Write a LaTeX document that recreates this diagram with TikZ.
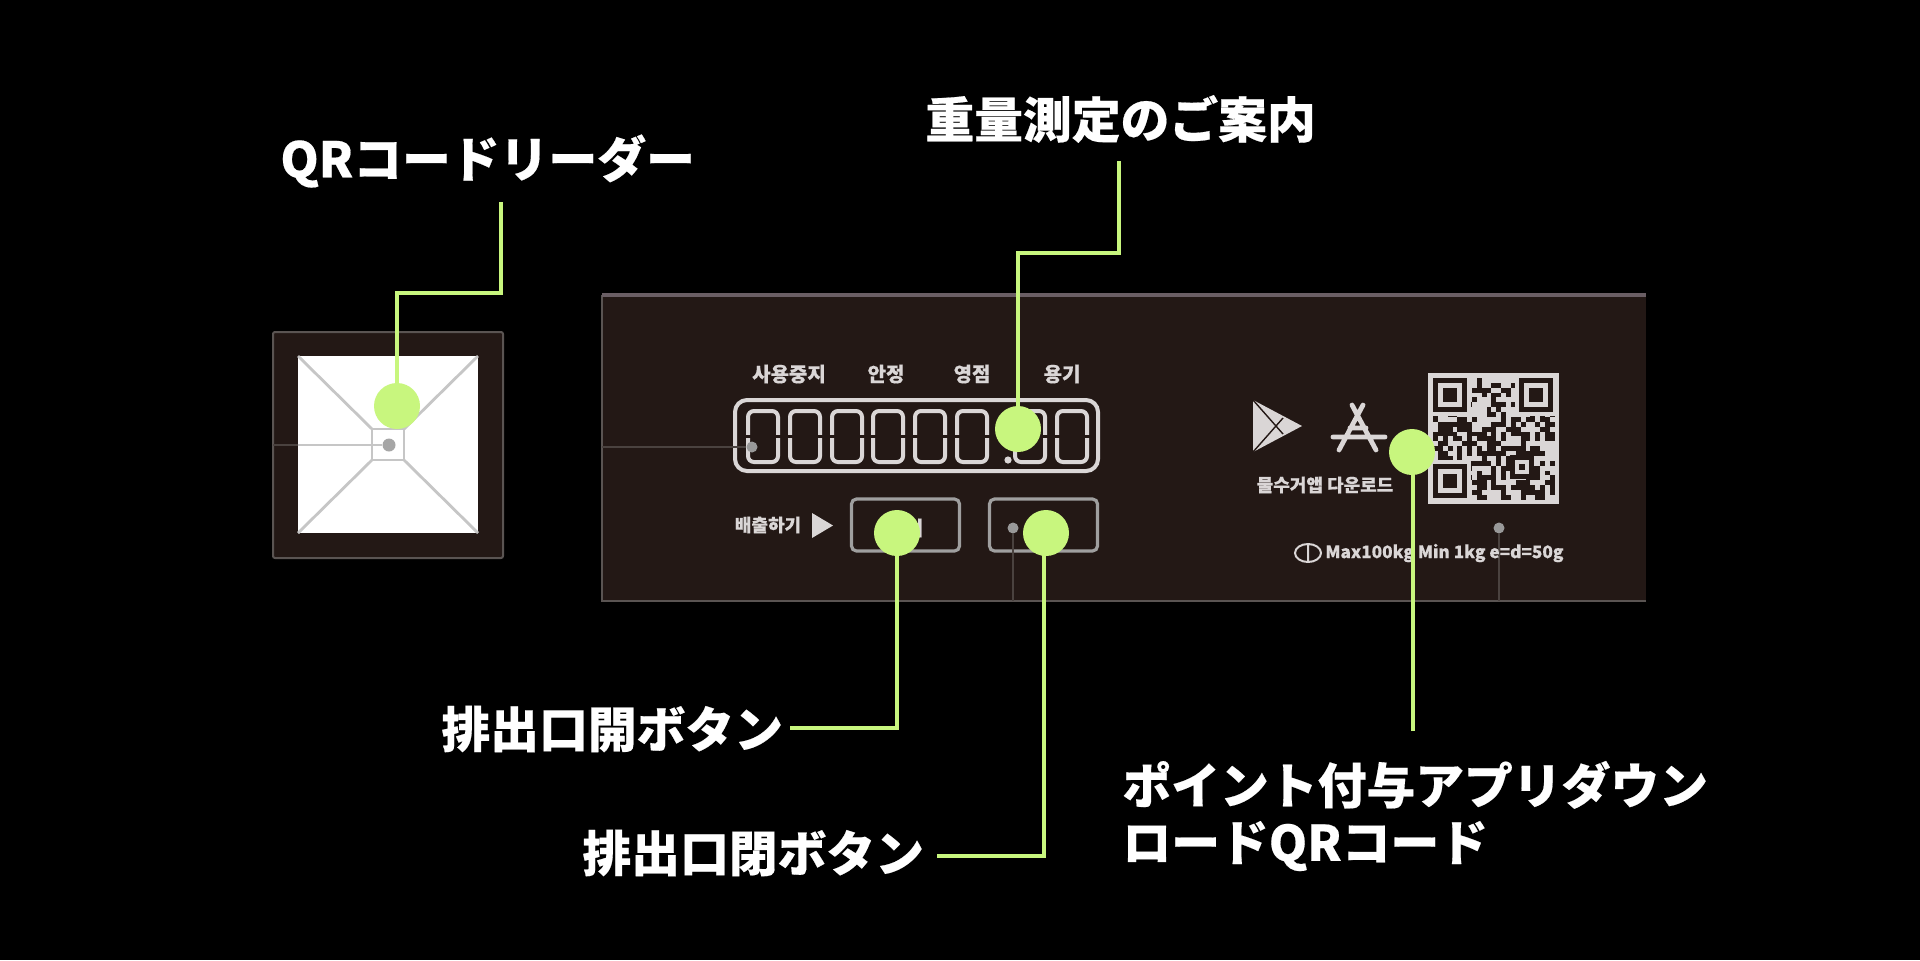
\documentclass[tikz,border=0pt]{standalone}
\usepackage{fontspec}
\usepackage{xcolor}
\setmainfont{Noto Sans}
\newfontfamily\jpfont[BoldFeatures={FakeBold=0.35}]{Noto Sans CJK JP}
\newfontfamily\krfont[BoldFeatures={FakeBold=0.4}]{Noto Sans CJK KR}
\usetikzlibrary{calc}
\definecolor{leadgreen}{HTML}{C8F67E}
\definecolor{panelbrown}{HTML}{231815}
\definecolor{edgegray}{HTML}{6A5E64}
\definecolor{sidegray}{HTML}{5A5452}
\definecolor{faintgray}{HTML}{4A423F}
\definecolor{inkgray}{HTML}{DAD6D6}

\begin{document}
\begin{tikzpicture}[x=0.5pt,y=-0.5pt,every node/.style={inner sep=0pt,align=left},biglabel/.style={text=white,anchor=west,font=\jpfont\bfseries\fontsize{24.4}{28.5}\selectfont},keytext/.style={text=inkgray,font=\krfont\bfseries\fontsize{10}{12}\selectfont},spot/.style={circle,fill=leadgreen,minimum size=23pt},leader/.style={draw=leadgreen,line width=2pt},thinleader/.style={draw=leadgreen,line width=1.6pt},casing/.style={fill=panelbrown,draw=sidegray,line width=1pt,rounded corners=1pt},wire/.style={draw=faintgray,line width=1pt},pin/.style={circle,fill=gray!80,minimum size=5.5pt},keybox/.style={draw=gray!75,line width=1.6pt,rounded corners=2.5pt},segline/.style={draw=inkgray,line width=2pt,rounded corners=3pt}]
\useasboundingbox (0,0) rectangle (1920,960);
\fill[black] (0,0) rectangle (1920,960);
% reader housing
\draw[casing] (273,332) rectangle (503,558);
\fill[white] (298,356) rectangle (478,533);
\draw[gray!45,line width=1.4pt] (298,356) -- (372,429) (478,356) -- (404,429) (298,533) -- (372,460) (478,533) -- (404,460);
\draw[gray!45,line width=1.4pt] (372,429) rectangle (404,460);
\node[pin,fill=gray!70,minimum size=6.5pt] (readerpin) at (389,445) {};
\draw[gray!45,line width=1pt] (298,445) -- (readerpin);
\draw[wire] (273,445) -- (298,445);
% weighing panel
\fill[panelbrown] (602,295) rectangle (1646,601);
\draw[sidegray,line width=1pt] (1646,601) -- (602,601) -- (602,295);
\draw[edgegray,line width=2pt] (602,295) -- (1646,295);
\node[keytext] (stoplabel) at (789,374) {사용중지}; \node[keytext] (stablelabel) at (886,374) {안정}; \node[keytext] (zerolabel) at (972,374) {영점}; \node[keytext] (tarelabel) at (1062,374) {용기};
\draw[segline,rounded corners=6pt] (735,400) rectangle (1098,471);
\foreach \dx in {763,805,847,888,930,972,1030,1072} {
  \draw[segline] (\dx-15,411) rectangle (\dx+15,462);
  \draw[panelbrown,line width=1.5pt] (\dx-19,436.5) -- (\dx-11,436.5) (\dx+11,436.5) -- (\dx+19,436.5);
}
\fill[inkgray] (1008,460) circle (1.8pt);
\node[pin] (scalepin) at (752,447) {};
\draw[wire] (602,447) -- (scalepin);
\node[keytext,font=\krfont\bfseries\fontsize{9}{11}\selectfont] (ejectlabel) at (768,525) {배출하기};
\fill[inkgray] (812,513) -- (833,525.5) -- (812,538) -- cycle;
\node[keybox,minimum width=54pt,minimum height=26pt] (openkey) at (905.5,525) {}; \node[keybox,minimum width=54pt,minimum height=26pt] (closekey) at (1043.5,525) {};
\node[keytext] (opentext) at (905,528) {열기}; \node[keytext] (closetext) at (1046,528) {닫기};
\node[pin] (closepin) at (1013,528) {};
\draw[wire] (closepin) -- (1013,601);
% store icons
\fill[inkgray] (1253,400) -- (1302,426) -- (1253,452) -- cycle;
\draw[panelbrown,line width=0.7pt] (1253,400) -- (1283,434) (1253,452) -- (1283,418);
\draw[inkgray,line width=2.4pt,line cap=round] (1363,405) -- (1339,450) (1352,405) -- (1376,450) (1333,437) -- (1385,437) (1350,428) -- (1366,428);
\node[keytext,font=\krfont\bfseries\fontsize{9}{11}\selectfont] (applabel) at (1325,485) {물수거앱 다운로드};
% qr code
\fill[inkgray] (1428,373) rectangle (1559,504);
\pgfmathsetseed{11}
\foreach \i in {0,...,24} \foreach \j in {0,...,24} {
  \pgfmathsetmacro{\cell}{int(rnd<0.48)}
  \ifnum\cell=1 \fill[panelbrown] ({1433+\i*4.87},{378+\j*4.87}) rectangle ++(4.87,4.87); \fi
}
\foreach \fx/\fy in {1433/378,1519/378,1433/464} {
  \fill[inkgray] (\fx-4,\fy-4) rectangle ++(42,42);
  \fill[panelbrown] (\fx,\fy) rectangle ++(34,34);
  \fill[inkgray] (\fx+5,\fy+5) rectangle ++(24,24);
  \fill[panelbrown] (\fx+10,\fy+10) rectangle ++(14,14);
}
\fill[panelbrown] (1510,455) rectangle ++(24,24); \fill[inkgray] (1515,460) rectangle ++(14,14); \fill[panelbrown] (1519,464) rectangle ++(6,6);
% capacity line
\node[pin] (platepin) at (1499,528) {};
\draw[wire] (platepin) -- (1499,601);
\draw[inkgray,line width=1pt] (1308,553) ellipse (6.5pt and 4.5pt) (1308,544) -- (1308,562);
\node[keytext,anchor=west,font=\krfont\bfseries\fontsize{8.6}{11}\selectfont] (ratinglabel) at (1325,553) {Max100kg Min 1kg e=d=50g};
% callouts
\node[spot] (readerspot) at (397,406) {}; \node[spot] (weightspot) at (1018,429) {}; \node[spot] (openspot) at (897,533) {}; \node[spot] (closespot) at (1046,533) {}; \node[spot] (qrspot) at (1412,452) {};
\node[biglabel] (readertitle) at (280,161) {QRコードリーダー}; \node[biglabel] (weighttitle) at (925,119) {重量測定のご案内}; \node[biglabel] (opentitle) at (441,729) {排出口開ボタン}; \node[biglabel] (closetitle) at (582,853) {排出口閉ボタン}; \node[biglabel] (qrtitle) at (1122,816) {ポイント付与アプリダウン\\ロードQRコード};
\coordinate (readertop) at (501,202); \coordinate (weighttop) at (1119,161); \coordinate (opentail) at (790,728); \coordinate (closetail) at (937,856); \coordinate (closeturn) at (1044,856); \coordinate (qrtail) at (1413,731);
\draw[leader] (readertop) -- ++(0,91) -| (readerspot);
\draw[leader] (weighttop) -- ++(0,92) -| (weightspot);
\draw[leader] (opentail) -| (openspot);
\draw[leader] (closetail) -- (closeturn) -- (closeturn |- closespot);
\draw[thinleader] (qrtail) -- (qrtail |- qrspot);
\end{tikzpicture}
\end{document}
